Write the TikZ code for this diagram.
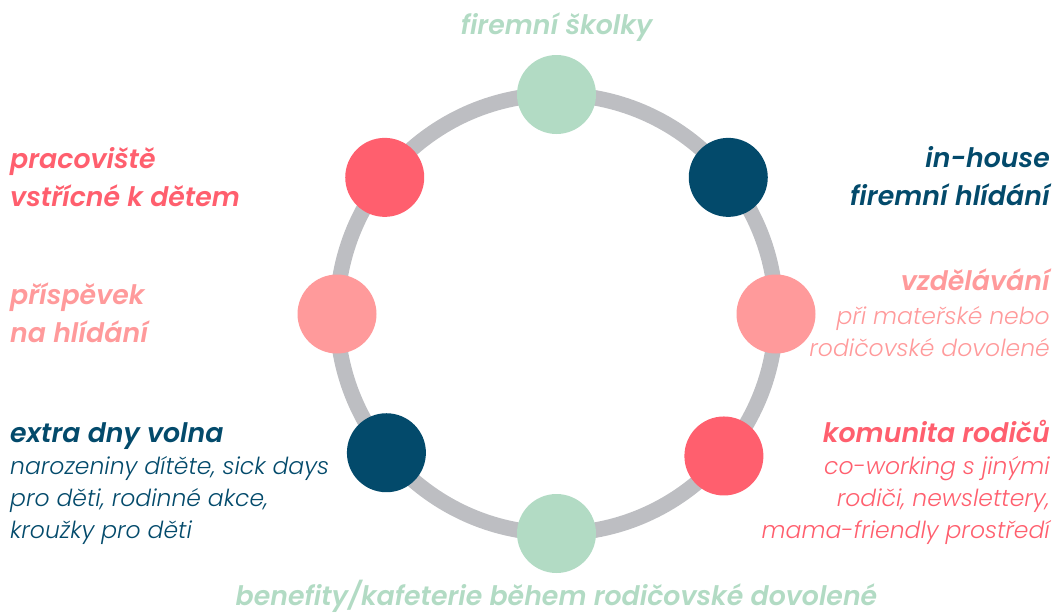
\documentclass[tikz,border=0pt]{standalone}
\usepackage{fontspec}
\setmainfont{Poppins}[BoldFont={Poppins SemiBold}, BoldItalicFont={Poppins SemiBold Italic}]
\newfontfamily\lightfont{Poppins Light}[ItalicFont={Poppins Light Italic}]

\definecolor{ringgray}{HTML}{BDBEC2}
\definecolor{mint}{HTML}{B2DBC4}
\definecolor{coral}{HTML}{FF5F6E}
\definecolor{blush}{HTML}{FF9A9B}
\definecolor{navy}{HTML}{034A6B}

\begin{document}
\begin{tikzpicture}[x=1pt, y=1pt,
  dot/.style={circle, fill=#1, minimum size=79pt, inner sep=0pt},
  head/.style={font=\fontsize{26.8}{37.5}\selectfont\bfseries\itshape, text=#1, inner sep=0pt},
  sub/.style={font=\fontsize{23.5}{32}\selectfont\lightfont\itshape, text=#1, inner sep=0pt}]
  \useasboundingbox (0,0) rectangle (1057,-614);

  % ring
  \coordinate (ctr) at (556.5,-314);
  \draw[ringgray, line width=15.5pt] (ctr) circle[radius=219.5];

  % dots on the ring
  \node[dot=mint]  (top)   at ([shift={(90:219.5)}]ctr) {};
  \node[dot=navy]  (upr)   at ([shift={(38.5:219.5)}]ctr) {};
  \node[dot=blush] (right) at ([shift={(0:219.5)}]ctr) {};
  \node[dot=coral] (lowr)  at ([shift={(-40.3:219.5)}]ctr) {};
  \node[dot=mint]  (bot)   at ([shift={(-90:219.5)}]ctr) {};
  \node[dot=navy]  (lowl)  at ([shift={(219.2:219.5)}]ctr) {};
  \node[dot=blush] (left)  at ([shift={(180:219.5)}]ctr) {};
  \node[dot=coral] (upl)   at ([shift={(141.5:219.5)}]ctr) {};

  % labels (base anchor = last line)
  \node[head=mint, anchor=base] (skolky) at (556.5,-34) {firemní školky};
  \node[head=coral, anchor=base west, align=left] (pracoviste) at (10,-206)
    {pracoviště\\vstřícné k dětem};
  \node[head=blush, anchor=base west, align=left] (prispevek) at (10,-342)
    {příspěvek\\na hlídání};
  \node[head=navy, anchor=base west] (extra) at (10,-442) {extra dny volna};
  \node[sub=navy, anchor=base west, align=left] (extrasub) at (10,-538)
    {narozeniny dítěte, sick days\\pro děti, rodinné akce,\\kroužky pro děti};
  \node[head=navy, anchor=base east, align=right] (inhouse) at (1050,-205)
    {in-house\\firemní hlídání};
  \node[head=blush, anchor=base east] (vzdelavani) at (1050,-290) {vzdělávání};
  \node[sub=blush, anchor=base east, align=right] (vzdsub) at (1050,-356)
    {při mateřské nebo\\rodičovské dovolené};
  \node[head=coral, anchor=base east] (komunita) at (1050,-442) {komunita rodičů};
  \node[sub=coral, anchor=base east, align=right] (komsub) at (1050,-538)
    {co-working s jinými\\rodiči, newslettery,\\mama-friendly prostředí};
  \node[head=mint, anchor=base] (benefity) at (556.5,-605)
    {benefity/kafeterie během rodičovské dovolené};
\end{tikzpicture}
\end{document}
